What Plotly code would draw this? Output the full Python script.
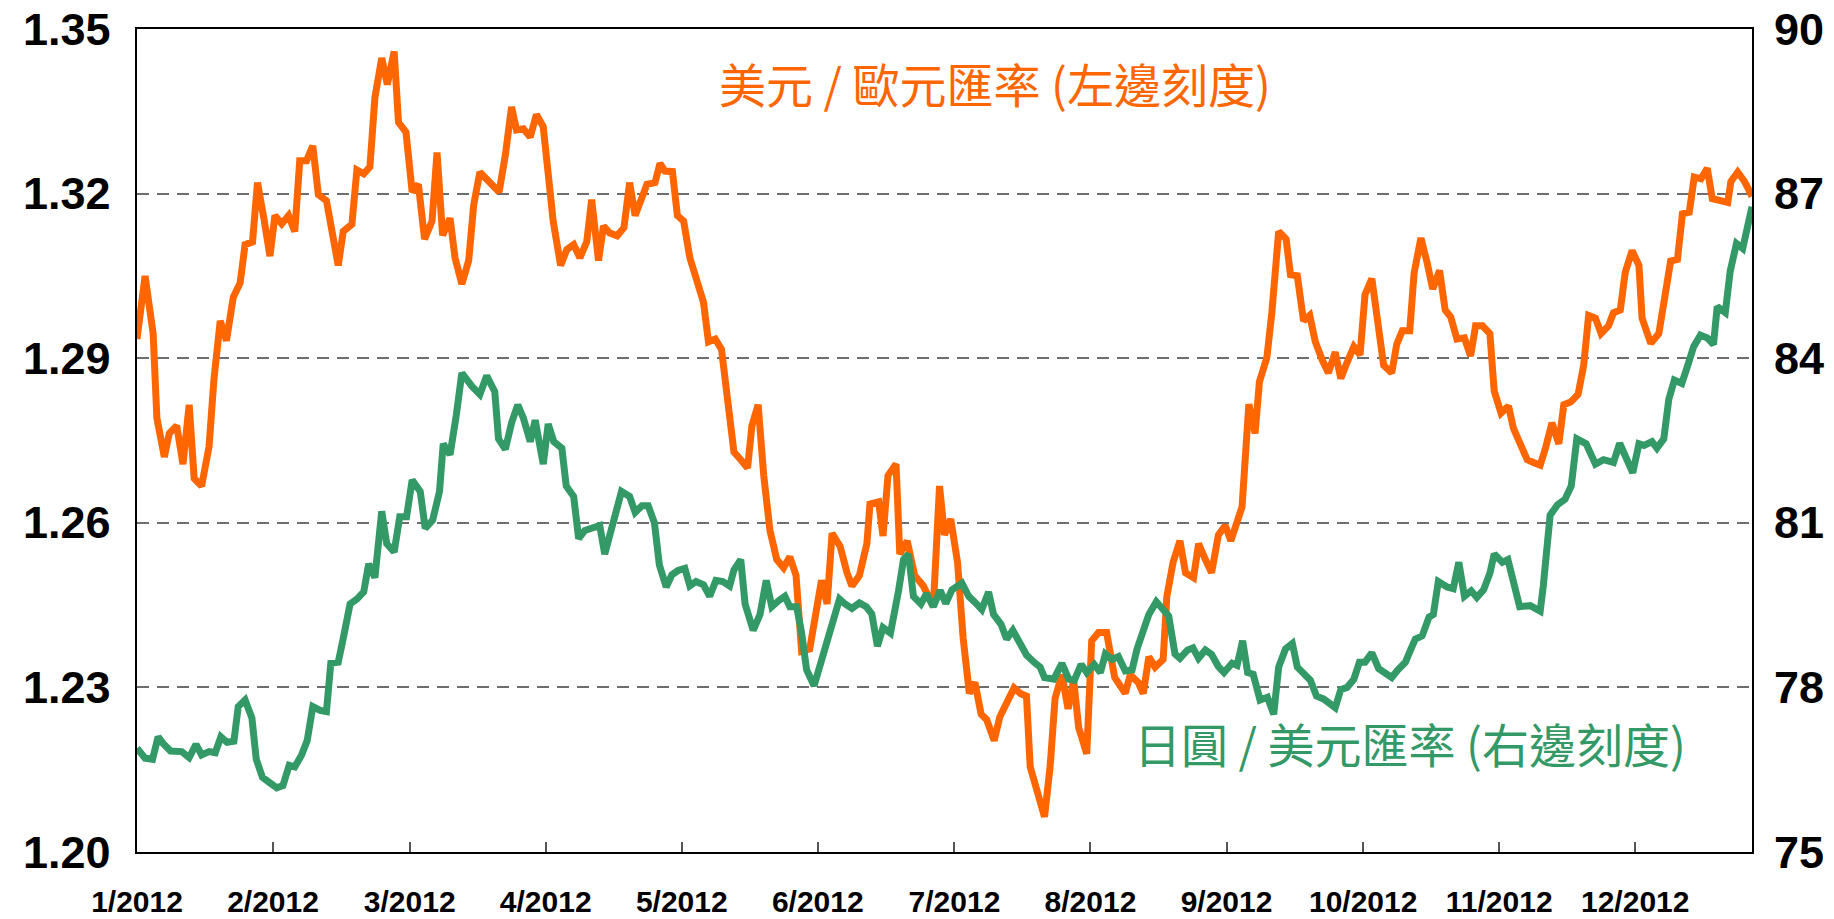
import plotly.graph_objects as go

# business-day index (0 = start of Jan 2012) and values
eur_x = [0, 1.3, 2.6, 3.2, 4.4, 5.2, 6.4, 7.4, 8.4, 9.2, 10.4, 11.6, 12.4, 13.4, 14.4, 15.5, 16.6,
         17.4, 18.6, 19.4, 20.5, 21.4, 22.2, 23.3, 24.4, 25.4, 26.2, 27.3, 28.3, 29.2, 30.5, 31.4,
         32.4, 33.2, 34.6, 35.4, 36.5, 37.5, 38.3, 39.4, 40.3, 41.4, 42.1, 43.3, 44.3, 45.3, 46.3,
         47.5, 48.3, 49.2, 50.4, 51.2, 52.3, 53.4, 54.2, 55.2, 56.3, 57.4, 58.3, 59.3, 60.3, 61.1,
         62.2, 63.3, 64.3, 65.4, 66.2, 67.0, 68.2, 69.2, 70.3, 71.3, 72.4, 73.2, 74.3, 75.1, 76.1,
         77.3, 78.4, 79.3, 80.2, 81.3, 82.1, 83.4, 84.2, 85.0, 86.2, 87.0, 88.0, 89.0, 90.1, 91.2,
         92.0, 93.1, 94.1, 94.9, 96.1, 97.2, 98.3, 99.0, 100.0, 100.9, 101.9, 103.0, 104.1, 105.1,
         106.1, 107.0, 108.3, 110.2, 111.1, 111.9, 113.2, 114.3, 115.1, 116.3, 117.5, 118.0, 119.4,
         120.1, 120.9, 122.2, 122.8, 124.0, 125.2, 126.6, 128.2, 129.2, 130.0, 131.0, 132.1, 133.0,
         134.0, 134.9, 135.9, 136.8, 138.0, 138.9, 140.0, 141.2, 142.2, 143.2, 143.8, 144.9, 146.1,
         147.0, 147.8, 148.9, 149.9, 150.8, 151.6, 152.9, 153.7, 154.8, 156.1, 157.4, 159.1, 159.9,
         161.2, 162.0, 162.9, 163.9, 165.2, 165.8, 166.8, 167.9, 168.8, 170.1, 170.9, 172.0, 173.0,
         174.1, 175.2, 176.1, 177.1, 177.9, 179.0, 180.0, 180.7, 181.9, 182.7, 183.8, 185.0, 185.7,
         186.8, 187.8, 188.8, 189.7, 190.8, 191.8, 192.9, 193.8, 194.8, 195.9, 196.9, 197.7, 198.8,
         199.6, 200.7, 202.0, 202.8, 203.7, 204.9, 205.6, 206.7, 207.7, 208.6, 209.7, 210.6, 211.5,
         212.5, 213.7, 214.7, 215.5, 216.6, 217.8, 218.5, 219.6, 220.8, 221.6, 222.7, 223.8, 224.8,
         225.9, 226.7, 227.8, 228.9, 229.7, 230.8, 232.0, 232.9, 233.7, 234.8, 235.7, 236.9, 237.7,
         238.8, 239.6, 240.7, 241.8, 242.3, 243.7, 245.0, 245.9, 246.9, 248.0, 248.8, 249.9, 250.7,
         251.8, 252.8, 253.6, 254.9, 256.1, 256.6, 257.7, 258.8, 260]
eur_usd = [1.2935, 1.305, 1.2945, 1.2791, 1.272, 1.2763, 1.2777, 1.2707, 1.2815, 1.2681, 1.2667,
           1.2739, 1.2863, 1.2968, 1.2932, 1.3011, 1.3037, 1.3107, 1.3112, 1.322, 1.315, 1.3086,
           1.316, 1.3145, 1.316, 1.3131, 1.326, 1.326, 1.3287, 1.3198, 1.3187, 1.3136, 1.3069,
           1.3131, 1.3144, 1.3243, 1.3236, 1.3249, 1.3375, 1.3447, 1.3399, 1.3459, 1.333, 1.3312,
           1.3203, 1.3217, 1.3117, 1.315, 1.3275, 1.3124, 1.3155, 1.3083, 1.3035, 1.3078, 1.3179,
           1.3239, 1.3227, 1.3217, 1.3203, 1.327, 1.3358, 1.3316, 1.3318, 1.3303, 1.3344, 1.3322,
           1.3236, 1.315, 1.3069, 1.3098, 1.3107, 1.3083, 1.3112, 1.3189, 1.3078, 1.3141, 1.3128,
           1.3123, 1.3138, 1.322, 1.316, 1.3198, 1.3217, 1.322, 1.3255, 1.3241, 1.324, 1.316, 1.315,
           1.3083, 1.3045, 1.3002, 1.293, 1.2935, 1.2916, 1.283, 1.2729, 1.2715, 1.27, 1.2777,
           1.2815, 1.2686, 1.2586, 1.2533, 1.2518, 1.2538, 1.2504, 1.2366, 1.237, 1.2495, 1.2452,
           1.2581, 1.2557, 1.2509, 1.2485, 1.2504, 1.2562, 1.2634, 1.2638, 1.2576, 1.2686, 1.2707,
           1.2543, 1.2567, 1.2504, 1.2485, 1.2447, 1.2667, 1.2578, 1.2607, 1.2528, 1.239, 1.2289,
           1.2309, 1.2251, 1.2241, 1.2203, 1.2246, 1.2275, 1.2299, 1.2289, 1.2284, 1.2155, 1.2112,
           1.2064, 1.2155, 1.228, 1.2323, 1.2261, 1.2313, 1.2227, 1.2179, 1.2385, 1.24, 1.24,
           1.2318, 1.2289, 1.2323, 1.2309, 1.2289, 1.2356, 1.2337, 1.2351, 1.2466, 1.2528, 1.2567,
           1.2509, 1.25, 1.2562, 1.2533, 1.2509, 1.2578, 1.2595, 1.2567, 1.26, 1.2629, 1.2816,
           1.2763, 1.2857, 1.2901, 1.2983, 1.3131, 1.3117, 1.3052, 1.305, 1.2968, 1.2978, 1.293,
           1.2897, 1.2873, 1.2911, 1.2863, 1.2892, 1.2921, 1.2906, 1.3016, 1.3045, 1.2968, 1.2887,
           1.2873, 1.2925, 1.295, 1.295, 1.3055, 1.3119, 1.3074, 1.3026, 1.306, 1.2988, 1.2975,
           1.2935, 1.2937, 1.2904, 1.2959, 1.2959, 1.2945, 1.284, 1.28, 1.2813, 1.2772, 1.2744,
           1.2715, 1.271, 1.2705, 1.2734, 1.2782, 1.2744, 1.2815, 1.282, 1.2834, 1.2887, 1.2978,
           1.2973, 1.2945, 1.2959, 1.2983, 1.2988, 1.3057, 1.3096, 1.3069, 1.2973, 1.2927, 1.2945,
           1.3011, 1.3077, 1.308, 1.3163, 1.3166, 1.323, 1.3227, 1.3246, 1.3191, 1.3189, 1.3184,
           1.3222, 1.3239, 1.3222, 1.3195]

jpy_x = [0, 1.3, 2.5, 3.4, 4.2, 5.4, 7.2, 8.4, 9.5, 10.4, 11.6, 12.6, 13.5, 14.5, 15.6, 16.3, 17.4,
         18.5, 19.2, 20.2, 21.4, 22.5, 23.5, 24.5, 25.4, 26.5, 27.4, 28.3, 29.5, 30.5, 31.2, 32.4,
         33.2, 34.3, 35.4, 36.5, 37.3, 38.3, 39.4, 40.2, 41.4, 42.3, 43.4, 44.3, 45.6, 46.4, 47.6,
         48.7, 49.3, 50.4, 51.4, 52.3, 53.9, 55.2, 56.3, 57.6, 58.2, 59.3, 60.3, 61.3, 62.2, 63.3,
         64.1, 65.4, 66.2, 67.1, 68.4, 69.1, 70.3, 71.1, 72.1, 73.2, 74.5, 75.3, 76.7, 78.0, 79.3,
         80.2, 81.3, 82.3, 83.3, 84.1, 85.2, 86.1, 87.1, 88.2, 89.0, 90.0, 91.2, 92.2, 93.2, 94.3,
         95.4, 96.1, 97.2, 97.9, 99.2, 100.3, 101.3, 102.2, 103.3, 104.3, 105.1, 106.2, 107.0,
         107.8, 109.0, 110.2, 111.6, 113.1, 114.0, 115.1, 116.3, 117.4, 118.3, 119.2, 120.1, 121.3,
         122.6, 123.4, 124.2, 125.0, 126.2, 127.1, 128.2, 129.3, 130.2, 131.2, 132.8, 133.9, 135.0,
         136.0, 137.1, 137.9, 139.1, 140.0, 141.0, 142.1, 143.2, 144.4, 145.4, 146.1, 147.6, 148.9,
         150.0, 150.9, 152.0, 152.9, 154.1, 155.1, 155.9, 157.0, 158.0, 159.1, 160.2, 161.0, 162.0,
         162.9, 164.1, 165.0, 166.1, 167.1, 167.9, 169.1, 170.0, 170.9, 172.0, 173.0, 174.1, 175.0,
         176.3, 177.1, 178.0, 178.8, 179.7, 180.8, 182.0, 183.0, 183.8, 184.9, 186.0, 186.8, 188.0,
         188.9, 189.9, 191.0, 192.1, 192.9, 193.8, 194.8, 195.9, 196.8, 197.7, 198.8, 199.9, 201.0,
         202.0, 203.0, 204.2, 205.1, 205.8, 206.9, 208.0, 208.7, 209.5, 210.9, 211.9, 212.8, 213.7,
         214.8, 215.7, 216.8, 217.8, 218.5, 219.8, 220.7, 221.5, 222.6, 224.3, 225.9, 226.4, 227.5,
         228.7, 229.9, 230.9, 231.8, 233.3, 234.8, 236.1, 237.7, 238.7, 239.8, 240.8, 241.8, 242.6,
         243.9, 244.7, 245.8, 246.6, 247.5, 248.7, 249.8, 250.6, 251.7, 252.8, 253.8, 254.4, 255.7,
         256.5, 257.5, 258.5, 260]
usd_jpy = [76.89, 76.71, 76.69, 77.10, 76.98, 76.84, 76.83, 76.72, 76.96, 76.77, 76.83, 76.81,
           77.10, 77.00, 77.02, 77.65, 77.77, 77.44, 76.69, 76.36, 76.26, 76.17, 76.21, 76.58,
           76.55, 76.77, 77.03, 77.65, 77.58, 77.56, 78.44, 78.46, 78.89, 79.52, 79.61, 79.74,
           80.25, 80.00, 81.21, 80.62, 80.47, 81.11, 81.11, 81.78, 81.57, 80.90, 81.05, 81.57,
           82.44, 82.24, 82.96, 83.73, 83.49, 83.34, 83.68, 83.39, 82.53, 82.34, 82.82, 83.15,
           82.91, 82.48, 82.87, 82.07, 82.80, 82.48, 82.36, 81.67, 81.48, 80.71, 80.86, 80.90,
           80.95, 80.43, 81.05, 81.57, 81.48, 81.19, 81.31, 81.31, 81.00, 80.23, 79.83, 80.05,
           80.13, 80.17, 79.85, 79.93, 79.87, 79.66, 79.95, 79.93, 79.85, 80.14, 80.33, 79.52,
           79.04, 79.33, 79.95, 79.47, 79.58, 79.66, 79.47, 79.47, 78.99, 78.32, 78.03, 78.51,
           79.09, 79.61, 79.52, 79.44, 79.54, 79.47, 79.34, 78.75, 79.09, 78.99, 79.76, 80.33,
           80.43, 79.66, 79.52, 79.71, 79.47, 79.77, 79.53, 79.78, 79.90, 79.66, 79.54, 79.42,
           79.74, 79.33, 79.15, 78.88, 79.04, 78.78, 78.59, 78.46, 78.37, 78.18, 78.15, 78.44,
           78.15, 78.13, 78.42, 78.27, 78.42, 78.27, 78.61, 78.51, 78.56, 78.30, 78.32, 78.70,
           78.99, 79.33, 79.56, 79.42, 79.30, 78.61, 78.53, 78.68, 78.72, 78.53, 78.68, 78.60,
           78.38, 78.27, 78.44, 78.40, 78.85, 78.27, 78.24, 77.77, 77.82, 77.51, 78.37, 78.70,
           78.80, 78.37, 78.21, 78.13, 77.84, 77.79, 77.70, 77.63, 77.96, 78.00, 78.15, 78.46,
           78.46, 78.63, 78.34, 78.27, 78.18, 78.32, 78.46, 78.70, 78.88, 78.94, 79.28, 79.33,
           79.93, 79.83, 79.80, 80.28, 79.66, 79.76, 79.64, 79.78, 80.08, 80.43, 80.28, 80.33,
           79.99, 79.47, 79.49, 79.39, 79.85, 81.14, 81.33, 81.43, 81.67, 82.53, 82.44, 82.07,
           82.15, 82.10, 82.45, 82.20, 81.91, 82.44, 82.41, 82.48, 82.36, 82.53, 83.25, 83.60,
           83.54, 83.92, 84.21, 84.42, 84.37, 84.25, 84.94, 84.83, 85.59, 86.09, 86.00, 86.76]

month_pos = [0, 21.9, 43.9, 65.8, 87.7, 109.6, 131.6, 153.5, 175.4, 197.4, 219.3, 241.2]
month_labels = ["1/2012", "2/2012", "3/2012", "4/2012", "5/2012", "6/2012",
                "7/2012", "8/2012", "9/2012", "10/2012", "11/2012", "12/2012"]
left_ticks = [1.20, 1.23, 1.26, 1.29, 1.32, 1.35]
right_ticks = [75, 78, 81, 84, 87, 90]

ORANGE = "#FF6600"
GREEN = "#339966"

fig = go.Figure()
fig.add_trace(go.Scatter(x=eur_x, y=eur_usd, mode="lines",
                         line=dict(color=ORANGE, width=7), yaxis="y"))
fig.add_trace(go.Scatter(x=jpy_x, y=usd_jpy, mode="lines",
                         line=dict(color=GREEN, width=7), yaxis="y2"))

tick_font = dict(family="Liberation Sans, Arial", size=45, color="black", weight="bold")
cjk = "Noto Sans CJK TC, Noto Sans CJK SC, sans-serif"

# y tick labels as annotations (the top ones sit right at the page edge)
for v in left_ticks:
    fig.add_annotation(x=0, y=v, xref="paper", yref="y", showarrow=False,
                       xanchor="right", yanchor="middle", xshift=-24,
                       text=f"{v:.2f}", font=tick_font)
for v in right_ticks:
    fig.add_annotation(x=1, y=v, xref="paper", yref="y2", showarrow=False,
                       xanchor="left", yanchor="middle", xshift=20,
                       text=str(v), font=tick_font)

# series labels inside the plot
fig.add_annotation(x=0.531, y=0.935, xref="paper", yref="paper", showarrow=False,
                   xanchor="center", yanchor="middle",
                   text="美元 / 歐元匯率 (左邊刻度)",
                   font=dict(family=cjk, size=47, color=ORANGE))
fig.add_annotation(x=0.788, y=0.133, xref="paper", yref="paper", showarrow=False,
                   xanchor="center", yanchor="middle",
                   text="日圓 / 美元匯率 (右邊刻度)",
                   font=dict(family=cjk, size=47, color=GREEN))

# page body adds an 8px margin, so the figure is offset by that much
fig.update_layout(
    width=1826, height=911,
    margin=dict(l=129, r=82, t=21, b=67),
    paper_bgcolor="white", plot_bgcolor="white",
    showlegend=False,
    xaxis=dict(
        range=[0, 260], tickmode="array", tickvals=month_pos, ticktext=month_labels,
        showgrid=False, zeroline=False, automargin=False,
        showline=True, mirror=True, linecolor="black", linewidth=2,
        ticks="inside", ticklen=10, tickwidth=1.5, tickcolor="#555",
        tickfont=dict(family="Liberation Sans, Arial", size=30, color="black", weight="bold"),
        ticklabelstandoff=22,
    ),
    yaxis=dict(
        range=[1.20, 1.35], tickmode="array", tickvals=left_ticks, showticklabels=False,
        showgrid=True, gridcolor="#6e6e6e", gridwidth=1.5, griddash="12px,8px",
        zeroline=False, automargin=False,
        showline=True, mirror=True, linecolor="black", linewidth=2, ticks="",
    ),
    yaxis2=dict(
        range=[75, 90], tickmode="array", tickvals=right_ticks, showticklabels=False,
        overlaying="y", side="right", showgrid=False, zeroline=False, automargin=False,
        showline=False, ticks="",
    ),
)

fig.write_html("out.html")
